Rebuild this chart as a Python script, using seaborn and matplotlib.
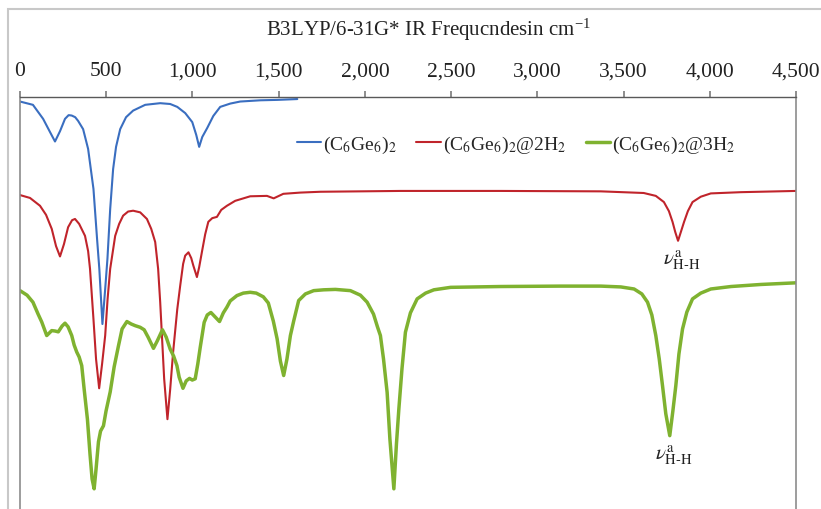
import numpy as np
import matplotlib
matplotlib.use('Agg')
import matplotlib.pyplot as plt
from matplotlib.patches import Rectangle
from matplotlib.ticker import StrMethodFormatter
import seaborn as sns

# Frequencies (cm-1) and relative transmittance (arbitrary, offset per system)
blue_x = [0, 75, 134, 174, 203, 232, 261, 282, 300, 320, 337, 366, 395, 426, 447,
          460, 478, 494, 507, 523, 540, 557, 581, 615, 656, 726, 813, 871, 912,
          958, 999, 1022, 1039, 1057, 1086, 1121, 1161, 1219, 1277, 1394, 1492,
          1608]
blue_y = [98.9, 98.1, 94.7, 91.5, 89.2, 91.7, 94.7, 95.6, 95.5, 95.1, 94.2, 92.2,
          87.4, 77.7, 65.5, 58.3, 44.9, 53.4, 60.7, 72.8, 82.5, 87.9, 92.2, 95.1,
          96.7, 98.1, 98.5, 98.3, 97.6, 96.1, 93.9, 90.8, 87.9, 90.3, 92.5, 95.4,
          97.6, 98.4, 98.9, 99.2, 99.3, 99.5]

red_x = [0, 58, 116, 151, 184, 209, 232, 255, 279, 302, 319, 343, 377, 395, 406,
         426, 441, 459, 476, 494, 508, 523, 552, 575, 598, 627, 656, 697, 736,
         761, 784, 801, 813, 836, 855, 871, 888, 912, 929, 946, 958, 977, 993,
         1005, 1026, 1039, 1055, 1074, 1092, 1115, 1142, 1167, 1200, 1248, 1335,
         1432, 1471, 1527, 1626, 1742, 2206, 2787, 3368, 3617, 3687, 3734, 3763,
         3784, 3800, 3816, 3832, 3851, 3873, 3900, 3948, 4006, 4181, 4500]
red_y = [76.2, 75.5, 73.6, 71.4, 68.0, 63.8, 61.3, 64.3, 68.4, 70.1, 70.4, 69.2,
         66.3, 62.6, 58.3, 46.1, 36.4, 29.3, 35.2, 42.1, 51.0, 58.3, 66.3, 69.2,
         71.2, 72.2, 72.4, 72.0, 70.4, 68.0, 64.8, 58.3, 50.2, 31.6, 21.8, 29.1,
         38.1, 48.5, 54.2, 59.5, 61.5, 62.3, 60.9, 59.1, 56.3, 58.7, 62.4, 66.7,
         69.7, 70.6, 70.9, 72.6, 73.6, 74.8, 75.9, 76.0, 75.4, 76.5, 76.8, 77.0,
         77.2, 77.2, 77.1, 76.7, 76.0, 74.5, 72.3, 69.7, 67.2, 65.1, 67.2, 69.7,
         72.3, 74.5, 75.8, 76.6, 76.9, 77.2]

green_x = [0, 41, 75, 105, 126, 155, 184, 203, 222, 244, 261, 279, 300, 314, 329,
           343, 358, 372, 391, 406, 418, 430, 441, 455, 467, 484, 499, 523, 546,
           571, 592, 620, 645, 668, 697, 720, 743, 774, 796, 826, 848, 871, 891,
           910, 923, 945, 964, 983, 999, 1016, 1031, 1045, 1068, 1086, 1107, 1132,
           1157, 1179, 1200, 1219, 1258, 1295, 1335, 1370, 1411, 1440, 1469, 1491,
           1510, 1529, 1548, 1568, 1587, 1616, 1655, 1703, 1761, 1829, 1916, 1974,
           2013, 2050, 2073, 2090, 2108, 2129, 2145, 2168, 2183, 2197, 2215, 2235,
           2264, 2303, 2352, 2400, 2497, 2787, 3135, 3368, 3484, 3561, 3606, 3639,
           3664, 3687, 3707, 3726, 3745, 3768, 3786, 3803, 3821, 3842, 3867, 3900,
           3948, 4006, 4123, 4297, 4500]
green_y = [53.0, 51.9, 50.2, 47.3, 45.4, 42.1, 43.3, 43.2, 43.0, 44.4, 45.1, 44.2,
           42.1, 39.8, 38.1, 36.9, 34.8, 29.1, 21.8, 13.3, 7.3, 4.9, 9.7, 16.3,
           18.9, 20.2, 23.8, 28.4, 34.5, 39.6, 43.7, 45.5, 44.9, 44.5, 44.1, 43.5,
           41.7, 39.0, 40.8, 43.5, 41.7, 38.8, 37.1, 34.8, 32.0, 29.3, 31.1, 31.7,
           31.3, 31.6, 35.2, 39.2, 45.3, 47.1, 47.7, 46.6, 45.5, 47.6, 49.0, 50.5,
           51.8, 52.4, 52.6, 52.4, 51.5, 50.0, 45.6, 41.3, 35.9, 32.4, 36.4, 42.1,
           45.6, 50.6, 52.2, 53.0, 53.2, 53.3, 53.0, 51.9, 50.2, 47.3, 44.2, 42.1,
           36.4, 28.3, 17.0, 4.9, 15.8, 24.3, 34.0, 42.9, 47.6, 51.0, 52.4, 53.2,
           53.8, 54.0, 54.1, 54.1, 53.9, 53.4, 52.2, 50.2, 47.1, 42.1, 36.4, 29.9,
           23.1, 17.8, 23.8, 29.9, 37.6, 43.7, 47.8, 51.0, 52.4, 53.4, 54.0, 54.5,
           54.9]

labels = [r'(C$_6$Ge$_6$)$_2$', r'(C$_6$Ge$_6$)$_2$@2H$_2$', r'(C$_6$Ge$_6$)$_2$@3H$_2$']
colors = ['#3a6ec0', '#c0242b', '#7fb230']
xticks = list(range(0, 4501, 500))

sns.set_theme(style='white')
plt.rcParams['font.family'] = ['Liberation Serif', 'DejaVu Serif']
plt.rcParams['mathtext.fontset'] = 'stix'
plt.rcParams['lines.solid_joinstyle'] = 'round'

fig = plt.figure(figsize=(8.21, 5.10), dpi=100)
ax = fig.add_axes([20 / 821, 0, 776 / 821, 412 / 510])

sns.lineplot(x=blue_x, y=blue_y, ax=ax, color=colors[0], lw=1.5, label=labels[0])
sns.lineplot(x=red_x, y=red_y, ax=ax, color=colors[1], lw=1.5, label=labels[1])
sns.lineplot(x=green_x, y=green_y, ax=ax, color=colors[2], lw=2.5, label=labels[2])

ax.set_xlim(0, 4500)
ax.set_ylim(0, 100)
ax.set_xticks(xticks)
ax.xaxis.set_major_formatter(StrMethodFormatter('{x:,.0f}'))
ax.xaxis.tick_top()
ax.set_yticks([])
ax.set_xlabel('')
ax.set_ylabel('')
ax.tick_params(axis='x', direction='out', length=4, color='#808080',
               labelsize=15.5, pad=8, labelcolor='#222222', top=True, bottom=False)
ax.spines['top'].set_color('#595959')
ax.spines['top'].set_linewidth(1.0)
for s in ['left', 'right']:
    ax.spines[s].set_color('#8c8c8c')
    ax.spines[s].set_linewidth(1.2)
ax.spines['bottom'].set_visible(False)

ax.legend(loc='center left', bbox_to_anchor=(277 / 776, 0.886), ncol=3,
          frameon=False, fontsize=14, handlelength=1.25, handletextpad=0.1,
          columnspacing=1.0, borderpad=0, borderaxespad=0)

# H-H stretch labels under the high-frequency dips
for xs, ys in [(red_x, red_y), (green_x, green_y)]:
    xs = np.array(xs)
    ys = np.array(ys)
    m = xs > 3500
    i = np.argmin(ys[m])
    ax.annotate(r'$\nu^{\mathrm{a}}_{\mathrm{H\text{-}H}}$', (xs[m][i], ys[m][i]),
                xytext=(3, -5), textcoords='offset points', ha='center', va='top',
                fontsize=15, color='#222222')

fig.text(428 / 821, 1 - 30 / 510, 'B3LYP/6-31G* IR Frequcndesin cm$^{\\mathregular{-1}}$',
         ha='center', va='center', fontsize=15, color='#222222')

fig.patches.append(Rectangle((8 / 821, -0.05), 1.0, 1.05 - 10 / 510,
                             transform=fig.transFigure, fill=False,
                             edgecolor='#c8c8c8', lw=1.5))

fig.savefig('out.png', dpi=100)
